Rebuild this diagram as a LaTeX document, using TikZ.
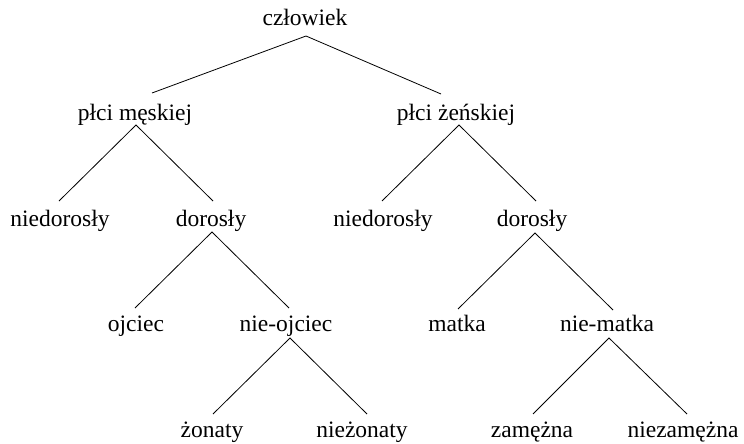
\documentclass[tikz,border=0pt]{standalone}
\usepackage{fontspec}
\setmainfont{Liberation Serif}
\usetikzlibrary{calc}
\begin{document}
\begin{tikzpicture}[x=1pt,y=-1pt,
  lbl/.style={anchor=base,inner sep=0pt,font=\fontsize{23.5}{28}\selectfont},
  edge/.style={draw=black,line width=0.8pt}]
\useasboundingbox (0,0) rectangle (744,444);
% nodes
\node[lbl] (czl) at (305,26) {człowiek};
\node[lbl] (pm) at (135,120) {płci męskiej};
\node[lbl] (pz) at (456,120) {płci żeńskiej};
\node[lbl] (nd1) at (60,226) {niedorosły};
\node[lbl] (d1) at (211,226) {dorosły};
\node[lbl] (nd2) at (383,226) {niedorosły};
\node[lbl] (d2) at (532,226) {dorosły};
\node[lbl] (oj) at (136,331) {ojciec};
\node[lbl] (noj) at (286,331) {nie-ojciec};
\node[lbl] (mat) at (457,331) {matka};
\node[lbl] (nmat) at (607,331) {nie-matka};
\node[lbl] (zon) at (212,437) {żonaty};
\node[lbl] (nzon) at (362,437) {nieżonaty};
\node[lbl] (zam) at (532,437) {zamężna};
\node[lbl] (nzam) at (683,437) {niezamężna};
% edges
\draw[edge] ($(pm.base)+(17,-27)$) -- ($(czl.base)+(1,10)$) -- ($(pz.base)+(-15,-26)$);
\draw[edge] ($(nd1.base)+(-1,-25)$) -- ($(pm.base)+(1,5)$) -- ($(d1.base)+(2,-25)$);
\draw[edge] ($(nd2.base)+(-1,-25)$) -- ($(pz.base)+(3,5)$) -- ($(d2.base)+(4,-25)$);
\draw[edge] ($(oj.base)+(-1,-23)$) -- ($(d1.base)+(1,6)$) -- ($(noj.base)+(3,-23)$);
\draw[edge] ($(mat.base)+(1,-22)$) -- ($(d2.base)+(3,7)$) -- ($(nmat.base)+(6,-21)$);
\draw[edge] ($(zon.base)+(1,-23)$) -- ($(noj.base)+(4,7)$) -- ($(nzon.base)+(5,-23)$);
\draw[edge] ($(zam.base)+(1,-23)$) -- ($(nmat.base)+(2,7)$) -- ($(nzam.base)+(4,-23)$);
\end{tikzpicture}
\end{document}
